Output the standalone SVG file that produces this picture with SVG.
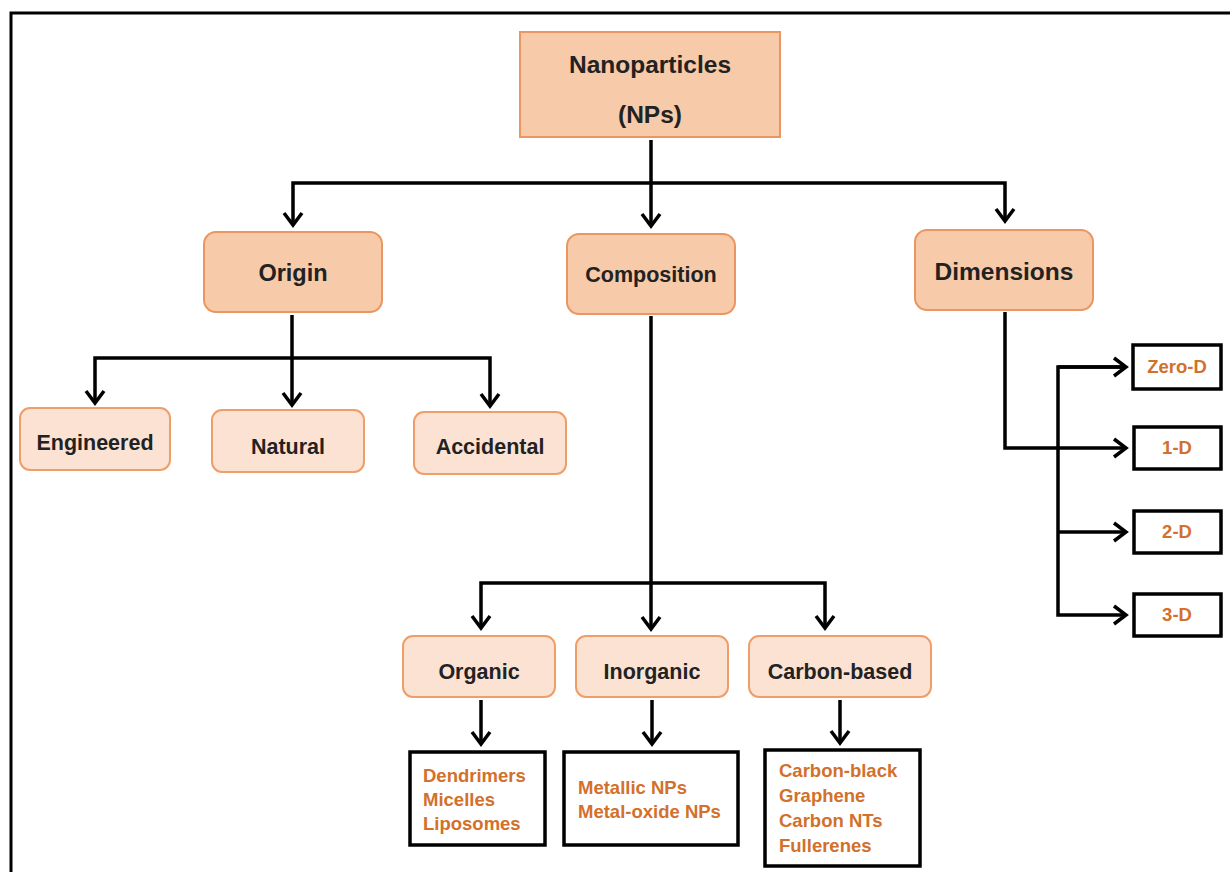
<svg xmlns="http://www.w3.org/2000/svg" width="1230" height="872" viewBox="0 0 1230 872">
<style>
.main{fill:#f7caa9;stroke:#ea9660;stroke-width:2}
.sub{fill:#fbe2d3;stroke:#ef9e6a;stroke-width:2}
.leaf{fill:#fff;stroke:#000;stroke-width:3.5}
.t{font-family:"Liberation Sans",Arial,sans-serif;font-weight:bold;fill:#222;text-anchor:middle}
.o{font-family:"Liberation Sans",Arial,sans-serif;font-weight:bold;fill:#d2702c;font-size:18.5px}
.oc{text-anchor:middle}
.c{fill:none;stroke:#000;stroke-width:3.5}
</style>
<defs>
<marker id="arr" markerUnits="userSpaceOnUse" markerWidth="24" markerHeight="24" viewBox="0 0 24 24" refX="20" refY="12" orient="auto">
<path d="M8,3 L20,12 L8,21" fill="none" stroke="#000" stroke-width="3.5" stroke-linejoin="miter"/>
</marker>
</defs>
<rect x="0" y="0" width="1230" height="872" fill="#fff"/>
<path d="M11,872 V13 H1230" fill="none" stroke="#000" stroke-width="3"/>

<g id="connectors">
<path class="c" d="M651,140 V183"/>
<path class="c" d="M651,183 H293 V225" marker-end="url(#arr)"/>
<path class="c" d="M651,183 V226" marker-end="url(#arr)"/>
<path class="c" d="M651,183 H1005 V221" marker-end="url(#arr)"/>
<path class="c" d="M292,315 V358"/>
<path class="c" d="M292,358 H95 V403" marker-end="url(#arr)"/>
<path class="c" d="M292,358 V405" marker-end="url(#arr)"/>
<path class="c" d="M292,358 H490 V406" marker-end="url(#arr)"/>
<path class="c" d="M651,316 V583"/>
<path class="c" d="M651,583 H481 V628" marker-end="url(#arr)"/>
<path class="c" d="M651,583 V629" marker-end="url(#arr)"/>
<path class="c" d="M651,583 H825 V628" marker-end="url(#arr)"/>
<path class="c" d="M481,700 V744" marker-end="url(#arr)"/>
<path class="c" d="M652,700 V744" marker-end="url(#arr)"/>
<path class="c" d="M840,700 V743" marker-end="url(#arr)"/>
<path class="c" d="M1005,312 V448 H1126" marker-end="url(#arr)"/>
<path class="c" d="M1126,367 H1058 V615 H1126" marker-end="url(#arr)"/>
<path class="c" d="M1058,367 H1126" marker-end="url(#arr)"/>
<path class="c" d="M1058,532 H1126" marker-end="url(#arr)"/>
</g>

<g id="root">
<rect class="main" x="520" y="32" width="260" height="105"/>
<text class="t" x="650" y="73" font-size="24.5">Nanoparticles</text>
<text class="t" x="650" y="123" font-size="24.5">(NPs)</text>
</g>

<g id="origin">
<rect class="main" x="204" y="232" width="178" height="80" rx="12"/>
<text class="t" x="293" y="281" font-size="23.5">Origin</text>
</g>
<g id="composition">
<rect class="main" x="567" y="234" width="168" height="80" rx="12"/>
<text class="t" x="651" y="282" font-size="21.5">Composition</text>
</g>
<g id="dimensions">
<rect class="main" x="915" y="230" width="178" height="80" rx="12"/>
<text class="t" x="1004" y="280" font-size="24.5">Dimensions</text>
</g>

<g id="engineered">
<rect class="sub" x="20" y="408" width="150" height="62" rx="10"/>
<text class="t" x="95" y="450" font-size="21.5">Engineered</text>
</g>
<g id="natural">
<rect class="sub" x="212" y="410" width="152" height="62" rx="10"/>
<text class="t" x="288" y="454" font-size="21.5">Natural</text>
</g>
<g id="accidental">
<rect class="sub" x="414" y="412" width="152" height="62" rx="10"/>
<text class="t" x="490" y="454" font-size="21.5">Accidental</text>
</g>

<g id="organic">
<rect class="sub" x="403" y="636" width="152" height="61" rx="10"/>
<text class="t" x="479" y="679" font-size="21.5">Organic</text>
</g>
<g id="inorganic">
<rect class="sub" x="576" y="636" width="152" height="61" rx="10"/>
<text class="t" x="652" y="679" font-size="21.5">Inorganic</text>
</g>
<g id="carbon">
<rect class="sub" x="749" y="636" width="182" height="61" rx="10"/>
<text class="t" x="840" y="679" font-size="21.5">Carbon-based</text>
</g>

<g id="organic-list">
<rect class="leaf" x="410" y="752" width="135" height="93"/>
<text class="o" x="423" y="782">Dendrimers</text>
<text class="o" x="423" y="806">Micelles</text>
<text class="o" x="423" y="830">Liposomes</text>
</g>
<g id="inorganic-list">
<rect class="leaf" x="564" y="752" width="174" height="93"/>
<text class="o" x="578" y="794">Metallic NPs</text>
<text class="o" x="578" y="818">Metal-oxide NPs</text>
</g>
<g id="carbon-list">
<rect class="leaf" x="765" y="750" width="155" height="116"/>
<text class="o" x="779" y="777">Carbon-black</text>
<text class="o" x="779" y="802">Graphene</text>
<text class="o" x="779" y="827">Carbon NTs</text>
<text class="o" x="779" y="852">Fullerenes</text>
</g>

<g id="zero-d">
<rect class="leaf" x="1133" y="345" width="88" height="44"/>
<text class="o oc" x="1177" y="373" font-size="16.5">Zero-D</text>
</g>
<g id="one-d">
<rect class="leaf" x="1134" y="427" width="87" height="42"/>
<text class="o oc" x="1177" y="454" font-size="16.5">1-D</text>
</g>
<g id="two-d">
<rect class="leaf" x="1134" y="511" width="87" height="42"/>
<text class="o oc" x="1177" y="538" font-size="16.5">2-D</text>
</g>
<g id="three-d">
<rect class="leaf" x="1134" y="594" width="87" height="42"/>
<text class="o oc" x="1177" y="621" font-size="16.5">3-D</text>
</g>
</svg>
